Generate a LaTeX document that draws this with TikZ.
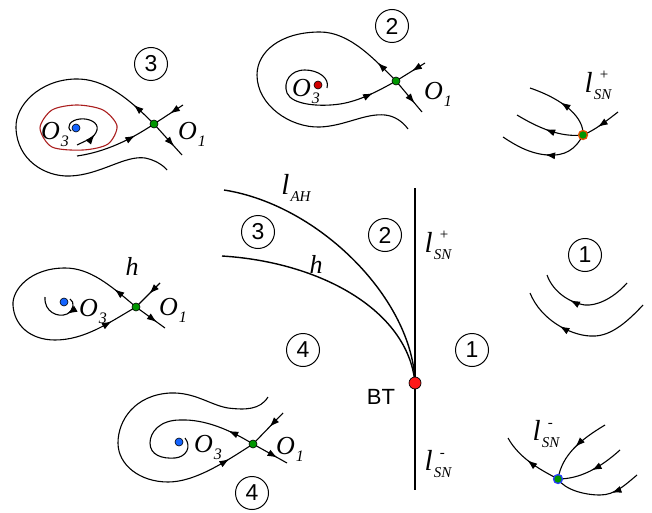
\documentclass[tikz,border=0pt]{standalone}
\usepackage{fontspec}
\setmainfont{Liberation Sans}
\newfontfamily\tms{Liberation Serif}
\usetikzlibrary{arrows.meta,decorations.markings}
\definecolor{sgreen}{RGB}{0,150,0}
\definecolor{fblue}{RGB}{20,100,255}
\definecolor{fred}{RGB}{210,0,0}
\definecolor{cycred}{RGB}{170,30,30}
\newcommand{\Olab}[1]{{\tms\itshape\fontsize{26}{26}\selectfont O\kern1pt\raisebox{-7pt}{\fontsize{16}{16}\selectfont #1}}}
\newcommand{\lsn}[1]{{\tms\itshape\fontsize{29}{29}\selectfont l\kern1pt\rlap{\raisebox{13pt}{\kern6pt\fontsize{15}{15}\selectfont\upshape #1}}\raisebox{-7pt}{\fontsize{15}{15}\selectfont SN}}}
\newcommand{\lah}{{\tms\itshape\fontsize{29}{29}\selectfont l\kern1pt\raisebox{-7pt}{\fontsize{15}{15}\selectfont AH}}}
\begin{document}
\begin{tikzpicture}[x=1pt,y=-1pt,line width=1.1pt,
  fl/.style={postaction={decorate},decoration={markings,
    mark=at position #1 with {\arrow{Latex[length=10pt,width=7pt]}}}},
  flb/.style 2 args={postaction={decorate},decoration={markings,
    mark=at position #1 with {\arrow{Latex[length=10pt,width=7pt]}},
    mark=at position #2 with {\arrow{Latex[length=10pt,width=7pt]}}}},
  saddle/.style={circle,draw,fill=sgreen,inner sep=0,minimum size=8pt,line width=0.6pt},
  focus/.style={circle,draw,inner sep=0,minimum size=8pt,line width=0.6pt},
  reg/.style={circle,draw,line width=1pt,minimum size=33pt,inner sep=0,font=\fontsize{23}{23}\selectfont},
  cyc/.style={draw=cycred,line width=1.1pt}]
\useasboundingbox (0,0) rectangle (652,513);
% bifurcation curves
\coordinate (bt) at (415,383);
\coordinate (snTop) at (415,188);
\coordinate (snBot) at (415,490);
\coordinate (ahEnd) at (224,190);
\coordinate (hEnd) at (222,256);
\draw[line width=1.5pt] (snTop) -- (snBot);
\draw[line width=1.4pt] (ahEnd) .. controls (320,205) and (413,300) .. (bt);
\draw[line width=1.4pt] (hEnd) .. controls (320,262) and (408,310) .. (bt);
\node[circle,draw,fill=red!90!white,inner sep=0,minimum size=12pt,line width=0.7pt] (btdot) at (bt) {};
\node (btlab) at (381,397) {\fontsize{22}{22}\selectfont BT};
\node (ahlab) at (296,188) {\lah};
\node (hlab) at (316,264) {\tms\itshape\fontsize{26}{26}\selectfont h};
\node (snplab) at (438,245) {\lsn{+}};
\node (snmlab) at (438,464) {\lsn{-}};
\node[reg] (reg3) at (258,232) {3};
\node[reg] (reg2) at (385,235) {2};
\node[reg] (reg4) at (303,350) {4};
\node[reg] (reg1) at (472,350) {1};
% portrait 3
\coordinate (s3) at (154,124);
\coordinate (f3) at (76,128);
\coordinate (t3) at (167,170);
\coordinate (i3) at (77,156);
\coordinate (ur3) at (183,105);
\coordinate (lr3) at (182,155);
\coordinate (sp3) at (77,145);
\draw[cyc] plot[smooth cycle] coordinates {(40,128) (52,110) (77,105) (103,110) (117,126) (108,144) (83,150) (52,147)};
\draw[fl=28pt] (s3) .. controls (130,100) and (105,78) .. (75,79) .. controls (40,80) and (15,105) .. (16,128)
  .. controls (17,160) and (45,177) .. (70,176) .. controls (100,175) and (125,155) .. (145,158)
  .. controls (155,160) and (163,165) .. (t3);
\draw[fl=-22pt] (i3) .. controls (105,152) and (130,140) .. (s3);
\draw[fl=0.45] (ur3) -- (s3);
\draw[fl=0.72] (s3) -- (lr3);
\draw[fl=0.3] (sp3) .. controls (85,141) and (95,138) .. (97,130) .. controls (99,122) and (88,118) .. (80,119)
  .. controls (70,120) and (66,127) .. (71,131);
\node[saddle] (s3dot) at (s3) {};
\node[focus,fill=fblue] (f3dot) at (f3) {};
\node[reg] (p3) at (151,64) {3};
\node (o3a) at (55,134) {\Olab{3}};
\node (o1a) at (192,134) {\Olab{1}};
% portrait 2
\coordinate (s2) at (396,81);
\coordinate (f2) at (318,85);
\coordinate (ur2) at (425,63);
\coordinate (lr2) at (422,112);
\coordinate (t2) at (408,129);
\coordinate (sp2) at (327,88);
\draw[fl=26pt] (s2) .. controls (375,60) and (350,32) .. (320,32) .. controls (280,32) and (257,52) .. (257,75)
  .. controls (257,105) and (290,128) .. (320,127) .. controls (345,126) and (365,113) .. (385,115)
  .. controls (395,116) and (403,122) .. (t2);
\draw[fl=-26pt] (sp2) .. controls (330,78) and (318,70) .. (305,70) .. controls (290,70) and (283,82) .. (287,93)
  .. controls (292,105) and (320,107) .. (340,104) .. controls (360,101) and (380,90) .. (s2);
\draw[fl=0.45] (ur2) -- (s2);
\draw[fl=0.72] (s2) -- (lr2);
\node[saddle] (s2dot) at (s2) {};
\node[focus,fill=fred] (f2dot) at (f2) {};
\node[reg] (p2) at (392,26) {2};
\node (o3b) at (306,91) {\Olab{3}};
\node (o1b) at (438,94) {\Olab{1}};
% portrait h
\coordinate (sh) at (136,307);
\coordinate (fh) at (64,302);
\coordinate (urh) at (160,283);
\coordinate (lrh) at (165,328);
\coordinate (hs) at (70,299);
\coordinate (hk) at (45,297);
\draw[flb={28pt}{-28pt}] (sh) .. controls (110,285) and (90,268) .. (65,268) .. controls (30,268) and (12,290) .. (13,305)
  .. controls (14,325) and (30,340) .. (55,340) .. controls (85,340) and (110,322) .. (sh);
\draw[fl=0.35] (hs) .. controls (75,302) and (74,310) .. (67,314) .. controls (58,318) and (44,312) .. (hk);
\draw[fl=0.45] (urh) -- (sh);
\draw[fl=0.72] (sh) -- (lrh);
\node[saddle] (shdot) at (sh) {};
\node[focus,fill=fblue] (fhdot) at (fh) {};
\node (hlab2) at (132,266) {\tms\itshape\fontsize{26}{26}\selectfont h};
\node (o3c) at (93,311) {\Olab{3}};
\node (o1c) at (173,310) {\Olab{1}};
% portrait 4
\coordinate (s4) at (253,444);
\coordinate (f4) at (179,442);
\coordinate (ur4) at (283,413);
\coordinate (lr4) at (287,463);
\coordinate (t4) at (268,397);
\coordinate (sp4) at (185,438);
\draw[fl=-28pt] (t4) .. controls (260,410) and (245,410) .. (228,408) .. controls (210,405) and (195,392) .. (170,393)
  .. controls (135,395) and (118,420) .. (118,443) .. controls (118,465) and (140,482) .. (168,482)
  .. controls (195,482) and (225,462) .. (s4);
\draw[fl=28pt] (s4) .. controls (230,430) and (205,419) .. (180,420) .. controls (160,420) and (150,432) .. (150,443)
  .. controls (150,455) and (162,459) .. (175,458) .. controls (186,457) and (192,447) .. (sp4);
\draw[fl=0.45] (ur4) -- (s4);
\draw[fl=0.72] (s4) -- (lr4);
\node[saddle] (s4dot) at (s4) {};
\node[focus,fill=fblue] (f4dot) at (f4) {};
\node[reg] (p4) at (252,493) {4};
\node (o3d) at (208,447) {\Olab{3}};
\node (o1d) at (290,449) {\Olab{1}};
% saddle-node l_SN^+
\coordinate (n1) at (583,135);
\coordinate (p1a) at (530,88);
\coordinate (p1b) at (517,115);
\coordinate (p1c) at (503,137);
\coordinate (p1d) at (618,112);
\draw[fl=0.55] (n1) .. controls (584,118) and (565,100) .. (p1a);
\draw[fl=0.55] (n1) .. controls (565,137) and (545,132) .. (p1b);
\draw[fl=0.5] (n1) .. controls (575,150) and (565,156) .. (548,155) .. controls (530,154) and (515,145) .. (p1c);
\draw[fl=0.6] (p1d) .. controls (605,122) and (595,130) .. (n1);
\node[circle,draw={rgb,255:red,230;green,80;blue,0},line width=1.3pt,fill=sgreen,inner sep=0,minimum size=9pt] (n1dot) at (n1) {};
\node (snp2) at (598,85) {\lsn{+}};
% region 1
\coordinate (q1) at (627,283);
\coordinate (q2) at (547,275);
\coordinate (q3) at (643,305);
\coordinate (q4) at (530,293);
\draw[fl=0.65] (q1) .. controls (612,300) and (595,306) .. (585,305) .. controls (570,303) and (553,292) .. (q2);
\draw[fl=0.68] (q3) .. controls (620,330) and (605,337) .. (590,336) .. controls (570,335) and (541,320) .. (q4);
\node[reg] (p1) at (585,255) {1};
% saddle-node l_SN^-
\coordinate (n2) at (558,479);
\coordinate (r1) at (508,438);
\coordinate (r2) at (605,425);
\coordinate (r3) at (620,450);
\coordinate (r4) at (637,475);
\draw[fl=0.55] (n2) .. controls (545,472) and (520,460) .. (r1);
\draw[fl=0.5] (r2) .. controls (580,440) and (562,455) .. (n2);
\draw[fl=0.5] (r3) .. controls (600,468) and (580,479) .. (n2);
\draw[fl=0.35] (r4) .. controls (625,485) and (615,495) .. (600,495) .. controls (585,495) and (565,490) .. (n2);
\node[circle,draw={rgb,255:red,40;green,60;blue,255},line width=1.3pt,fill=sgreen,inner sep=0,minimum size=9pt] (n2dot) at (n2) {};
\node (snm2) at (546,434) {\lsn{-}};
\end{tikzpicture}
\end{document}
